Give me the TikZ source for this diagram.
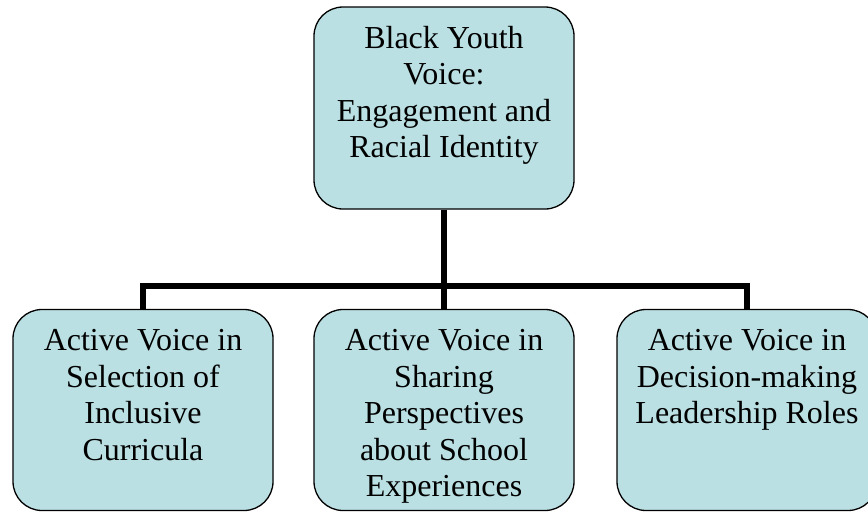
\documentclass[tikz,border=0pt]{standalone}
\usepackage{fontspec}
\setmainfont{Liberation Serif}
\definecolor{boxfill}{RGB}{187,224,227}
\newcommand{\boxtext}[3]{\parbox[t][#2][t]{#1}{\centering\rule{0pt}{41pt}#3}}
\begin{document}
\begin{tikzpicture}[x=1pt,y=-1pt,
  topic/.style={draw=black,line width=1.3pt,fill=boxfill,rounded corners=29pt,
    inner sep=0pt,font=\fontsize{32}{36.5}\selectfont},
  link/.style={draw=black,line width=5.5pt}]
  \useasboundingbox (0,0) rectangle (868,512);
  \clip (0,0) rectangle (868,512);

  % root
  \node[topic] (root) at (444,108) {\boxtext{260pt}{202pt}{Black Youth\\Voice:\\Engagement and\\Racial Identity}};

  % children
  \node[topic] (curr) at (143,410) {\boxtext{260pt}{201pt}{Active Voice in\\Selection of\\Inclusive\\Curricula}};
  \node[topic] (share) at (444,410) {\boxtext{260pt}{201pt}{Active Voice in\\Sharing\\Perspectives\\about School\\Experiences}};
  \node[topic] (lead) at (747,410) {\boxtext{260pt}{201pt}{Active Voice in\\Decision-making\\Leadership Roles}};

  % tree connectors
  \coordinate (bus) at (444,286);
  \draw[link] (root.south) -- (share.north);
  \draw[link] (curr.north) |- (bus) -| (lead.north);
\end{tikzpicture}
\end{document}
